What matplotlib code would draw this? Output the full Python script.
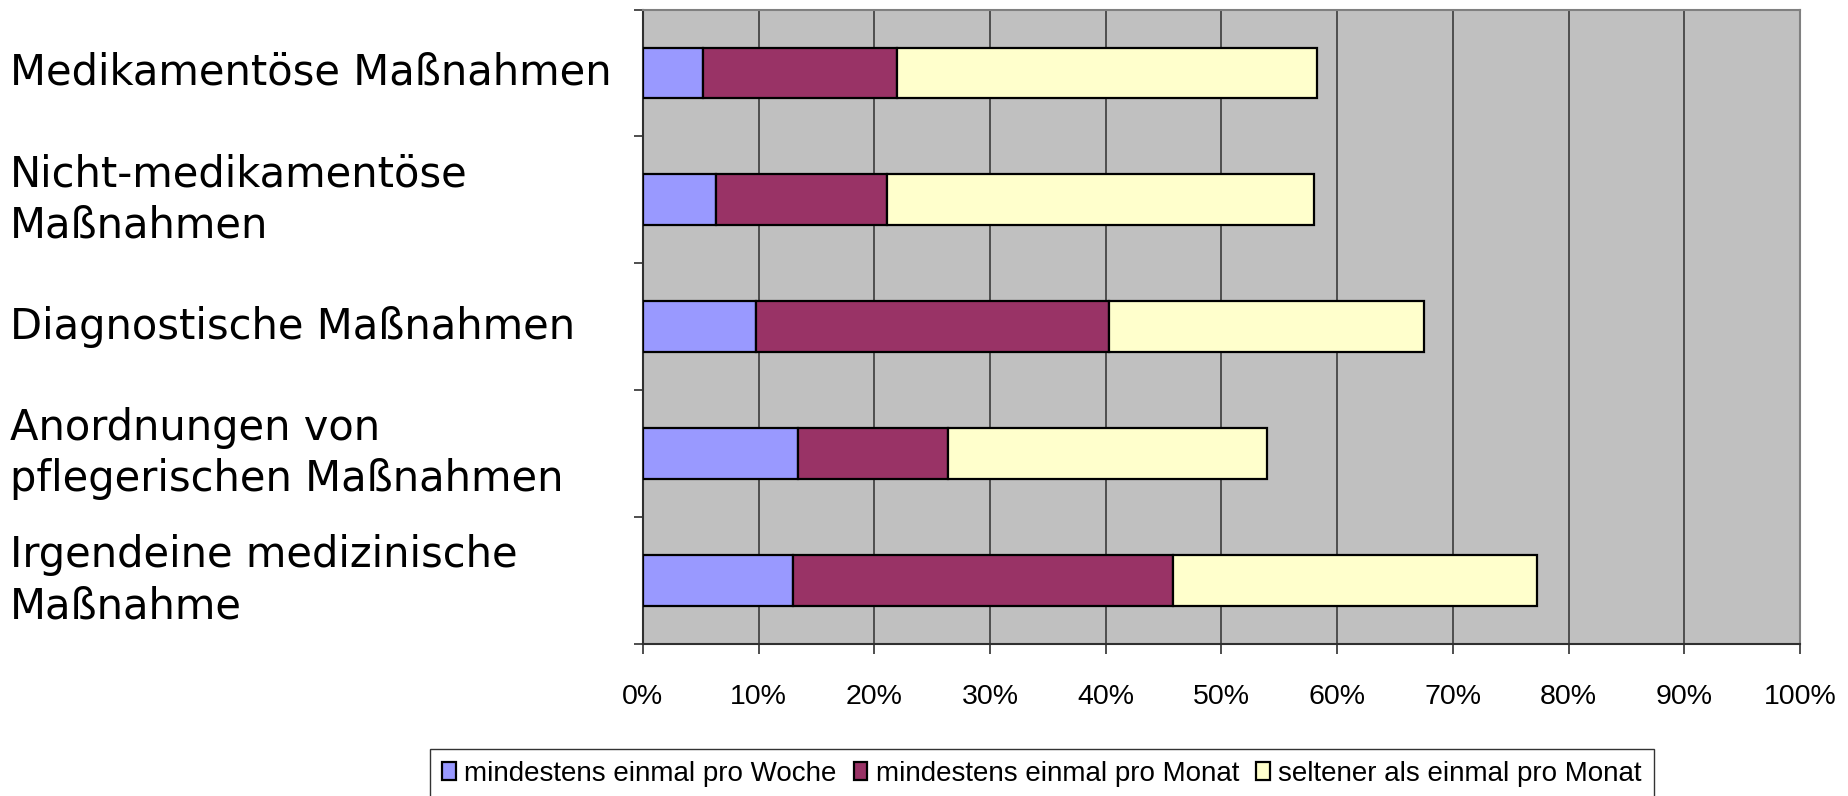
import numpy as np
import matplotlib
matplotlib.use('Agg')
import matplotlib.pyplot as plt
from matplotlib import font_manager

# Anteile (in %) je Maßnahme, von oben nach unten
kategorien = ['Medikamentöse Maßnahmen',
              'Nicht-medikamentöse\nMaßnahmen',
              'Diagnostische Maßnahmen',
              'Anordnungen von\npflegerischen Maßnahmen',
              'Irgendeine medizinische\nMaßnahme']
woche = [5.2, 6.3, 9.8, 13.4, 13.0]
monat = [16.8, 14.8, 30.5, 13.0, 32.8]
seltener = [36.3, 36.9, 27.2, 27.5, 31.5]
serien = ['mindestens einmal pro Woche',
          'mindestens einmal pro Monat',
          'seltener als einmal pro Monat']
farben = ['#9999FF', '#993366', '#FFFFCC']
xticks = list(range(0, 101, 10))
xlabels = ['%d%%' % v for v in xticks]

namen = {f.name for f in font_manager.fontManager.ttflist}
if 'Liberation Sans Narrow' in namen:
    leg_font = {'family': 'Liberation Sans Narrow', 'size': 24}
else:
    leg_font = {'family': 'Liberation Sans', 'size': 20}

fig = plt.figure(figsize=(18.48, 7.96), dpi=100)
ax = fig.add_axes([0.3479, 0.191, 0.974 - 0.3479, 0.988 - 0.191])
ax.set_facecolor('#C0C0C0')

y = np.arange(len(kategorien))
links = np.zeros(len(kategorien))
for werte, farbe, name in zip([woche, monat, seltener], farben, serien):
    ax.barh(y, werte, left=links, height=0.4, color=farbe,
            edgecolor='black', linewidth=1.6, label=name, zorder=3)
    links += np.array(werte)

ax.set_xlim(0, 100)
ax.set_ylim(len(kategorien) - 0.5, -0.5)

ax.set_xticks(xticks)
ax.set_xticklabels(xlabels, fontdict={'family': 'Liberation Sans', 'size': 20.5})
ax.xaxis.grid(True, color='#303030', linewidth=1.1, zorder=1)
ax.set_axisbelow(True)
ax.tick_params(axis='x', direction='out', length=7.5, width=1.2,
               color='#303030', pad=21)

ax.set_yticks(y)
ax.set_yticklabels(kategorien, fontsize=30, family='DejaVu Sans')
ax.set_yticks(np.arange(len(kategorien) + 1) - 0.5, minor=True)
ax.tick_params(axis='y', which='major', length=0, pad=455.5)
ax.tick_params(axis='y', which='minor', direction='out', length=6.5,
               width=1.2, color='#303030')
for lbl in ax.get_yticklabels():
    lbl.set_horizontalalignment('left')
    lbl.set_verticalalignment('center')
    lbl.set_linespacing(1.28)

for s in ['left', 'bottom']:
    ax.spines[s].set_color('#303030')
    ax.spines[s].set_linewidth(1.5)
for s in ['top', 'right']:
    ax.spines[s].set_color('#808080')
    ax.spines[s].set_linewidth(1.5)

leg = fig.legend(loc='center', bbox_to_anchor=(0.5638, 0.0276), ncol=3,
                 prop=leg_font, frameon=True, fancybox=False,
                 edgecolor='black', handlelength=0.5, handleheight=0.6,
                 handletextpad=0.3, columnspacing=0.6, borderpad=0.45,
                 borderaxespad=0)
leg.get_frame().set_linewidth(1.0)

fig.savefig('out.png', dpi=100)
